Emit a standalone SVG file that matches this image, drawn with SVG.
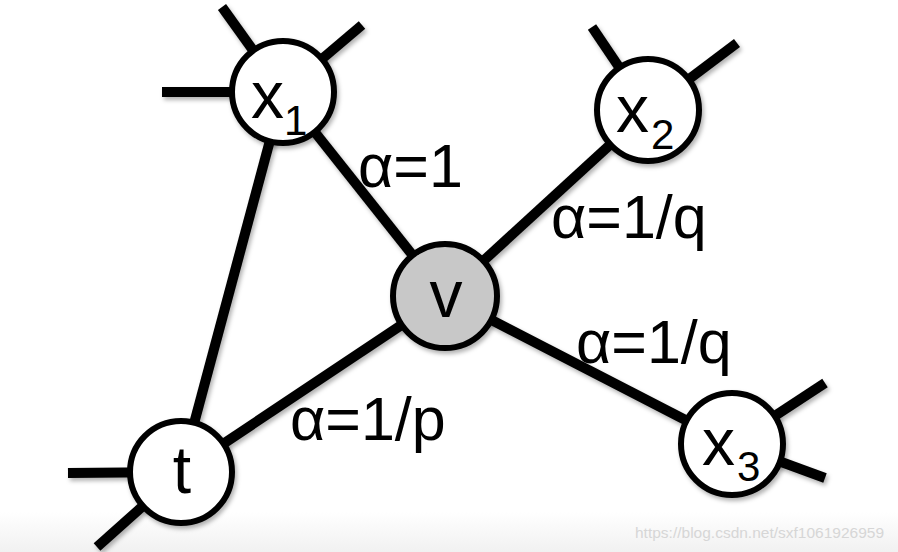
<svg xmlns="http://www.w3.org/2000/svg" width="898" height="552" viewBox="0 0 898 552">
<defs>
<filter id="sh" x="-20%" y="-20%" width="140%" height="140%">
<feDropShadow dx="2" dy="3" stdDeviation="2" flood-color="#000" flood-opacity="0.3"/>
</filter>
<linearGradient id="band" x1="0" y1="0" x2="0" y2="1">
<stop offset="0" stop-color="#ffffff"/>
<stop offset="1" stop-color="#f1f1f1"/>
</linearGradient>
</defs>
<style>
.e{stroke:#000;stroke-width:10;stroke-linecap:butt;fill:none}
.n{fill:#fff;stroke:#000;stroke-width:6}
.g{fill:#c8c8c8}
.t{font-family:"Liberation Sans",Arial,sans-serif;fill:#000}
.big{font-size:66px}
.sub{font-size:42px}
.lab{font-size:61px}
.wm{font-family:"Liberation Sans",Arial,sans-serif;font-size:15.5px;fill:#d6d6d6}
</style>
<rect x="0" y="0" width="898" height="552" fill="#fff"/>
<rect x="0" y="512" width="898" height="40" fill="url(#band)"/>
<g id="connectors" filter="url(#sh)">
<line class="e" x1="283" y1="92" x2="445" y2="296"/>
<line class="e" x1="648" y1="110" x2="445" y2="296"/>
<line class="e" x1="732" y1="444" x2="445" y2="296"/>
<line class="e" x1="181" y1="472" x2="445" y2="296"/>
<line class="e" x1="181" y1="472" x2="283" y2="92"/>
<line class="e" x1="283" y1="92" x2="222" y2="7"/>
<line class="e" x1="283" y1="92" x2="362" y2="25"/>
<line class="e" x1="283" y1="92" x2="162" y2="92"/>
<line class="e" x1="648" y1="110" x2="592" y2="27"/>
<line class="e" x1="648" y1="110" x2="737" y2="43"/>
<line class="e" x1="732" y1="444" x2="825" y2="383"/>
<line class="e" x1="732" y1="444" x2="825" y2="478"/>
<line class="e" x1="181" y1="472" x2="68" y2="473"/>
<line class="e" x1="181" y1="472" x2="97" y2="547"/>
</g>
<g id="x1">
<circle class="n" cx="283" cy="92" r="51" filter="url(#sh)"/>
<text class="t big" x="251" y="118">x</text>
<text class="t sub" x="284" y="135">1</text>
</g>
<g id="x2">
<circle class="n" cx="648" cy="110" r="51" filter="url(#sh)"/>
<text class="t big" x="616" y="132">x</text>
<text class="t sub" x="651" y="149">2</text>
</g>
<g id="x3">
<circle class="n" cx="732" cy="444" r="51" filter="url(#sh)"/>
<text class="t big" x="702" y="465">x</text>
<text class="t sub" x="737" y="481">3</text>
</g>
<g id="t">
<circle class="n" cx="181" cy="472" r="51" filter="url(#sh)"/>
<text class="t big" x="182" y="493" text-anchor="middle">t</text>
</g>
<g id="v">
<circle class="n g" cx="445" cy="296" r="52" filter="url(#sh)"/>
<text class="t big" x="446" y="317" text-anchor="middle">v</text>
</g>
<g id="labels">
<text class="t lab" x="358" y="187">α=1</text>
<text class="t lab" x="551" y="238">α=1/q</text>
<text class="t lab" x="576" y="363">α=1/q</text>
<text class="t lab" x="290" y="440">α=1/p</text>
</g>
<text class="wm" x="635" y="538">https://blog.csdn.net/sxf1061926959</text>
</svg>
